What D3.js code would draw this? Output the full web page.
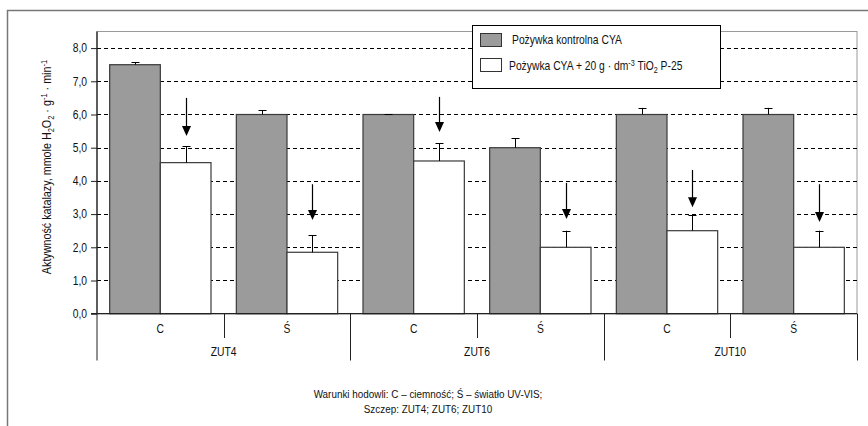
<!DOCTYPE html>
<html><head><meta charset="utf-8">
<script src="https://cdn.jsdelivr.net/npm/d3@7/dist/d3.min.js"></script>
<style>
html,body{margin:0;padding:0;background:#fff;}
svg{display:block;}
text{font-family:"Liberation Sans",Arial,sans-serif;fill:#111;}
</style></head>
<body>
<svg id="chart" width="868" height="426"></svg>
<script>
// ---- data ----
const groups = ["ZUT4", "ZUT6", "ZUT10"];
const conditions = ["C", "Ś"];
const control = [7.5, 6.0, 6.0, 5.0, 6.0, 6.0];
const controlErr = [0.07, 0.13, 0.01, 0.28, 0.2, 0.2];
const tio2 = [4.55, 1.85, 4.6, 2.0, 2.5, 2.0];
const tio2Err = [0.5, 0.52, 0.53, 0.5, 0.48, 0.5];
const arrowFrom = [6.5, 3.9, 6.53, 3.94, 4.33, 3.9];
const arrowTo = [5.35, 2.82, 5.47, 2.85, 3.21, 2.76];
const yTicks = [0, 1, 2, 3, 4, 5, 6, 7, 8];
const seriesNames = ["Pożywka kontrolna CYA", "Pożywka CYA + 20 g · dm⁻³ TiO₂ P-25"];

const svg = d3.select("#chart");
const SX = 0.86; // horizontal squeeze to mimic narrow Excel font

function label(g, x, y, anchor, size, parts, rotate) {
  const t = g.append("text")
    .attr("transform", `translate(${x},${y})` + (rotate ? ` rotate(${rotate})` : "") + ` scale(${SX},1)`)
    .attr("text-anchor", anchor)
    .style("font-size", size + "px");
  let offset = 0;
  parts.forEach(p => {
    if (typeof p === "string") {
      const ts = t.append("tspan").text(p);
      if (offset) { ts.attr("dy", -offset); offset = 0; }
    } else {
      const target = p.sub ? 3 : -4;
      const ts = t.append("tspan").text(p.t).style("font-size", (size * 0.7) + "px");
      ts.attr("dy", target - offset);
      offset = target;
    }
  });
  return t;
}

// outer frame
svg.append("rect").attr("x", 7.5).attr("y", 10.5).attr("width", 900).attr("height", 500)
  .attr("fill", "none").attr("stroke", "#777").attr("stroke-width", 1.5);

const left = 97, right = 857;
const y = d3.scaleLinear().domain([0, 8.5]).range([313.7, 31.5]);
const xg = d3.scaleBand().domain(groups).range([left, right]);
const xc = d3.scaleBand().domain(conditions).range([0, xg.bandwidth()]);
const xs = d3.scaleBand().domain(["control", "tio2"]).range([0, xc.bandwidth()]).paddingInner(0).paddingOuter(0.25);

// plot area border
svg.append("rect").attr("x", left).attr("y", y(8.5)).attr("width", right - left).attr("height", y(0) - y(8.5))
  .attr("fill", "#fff").attr("stroke", "#9a9a9a").attr("stroke-width", 1);

// gridlines
svg.append("g").selectAll("line").data(yTicks.filter(d => d > 0)).join("line")
  .attr("x1", left).attr("x2", right)
  .attr("y1", d => Math.round(y(d)) + 0.5).attr("y2", d => Math.round(y(d)) + 0.5)
  .attr("stroke", "#000").attr("stroke-width", 1).attr("stroke-dasharray", "4,3");

// records
const recs = [];
groups.forEach((g, gi) => conditions.forEach((c, ci) => {
  const i = gi * 2 + ci;
  recs.push({g, c, i, control: control[i], controlErr: controlErr[i], tio2: tio2[i], tio2Err: tio2Err[i],
    arrowFrom: arrowFrom[i], arrowTo: arrowTo[i], x0: xg(g) + xc(c)});
}));

const bars = svg.append("g");
recs.forEach(r => {
  [["control", "#9b9b9b"], ["tio2", "#ffffff"]].forEach(([k, fill]) => {
    const bx = r.x0 + xs(k);
    bars.append("rect").attr("x", bx).attr("y", y(r[k])).attr("width", xs.bandwidth()).attr("height", y(0) - y(r[k]))
      .attr("fill", fill).attr("stroke", "#3a3a3a").attr("stroke-width", 1.2);
    const cx = Math.round(bx + xs.bandwidth() / 2) + 0.5;
    const e = r[k + "Err"];
    bars.append("line").attr("x1", cx).attr("x2", cx).attr("y1", y(r[k])).attr("y2", y(r[k] + e))
      .attr("stroke", "#000").attr("stroke-width", 1);
    bars.append("line").attr("x1", cx - 4).attr("x2", cx + 4).attr("y1", Math.round(y(r[k] + e)) + 0.5).attr("y2", Math.round(y(r[k] + e)) + 0.5)
      .attr("stroke", "#000").attr("stroke-width", 1);
  });
  // arrow above tio2 bar
  const ax = Math.round(r.x0 + xs("tio2") + xs.bandwidth() / 2) + 0.5;
  const tip = y(r.arrowTo);
  bars.append("line").attr("x1", ax).attr("x2", ax).attr("y1", y(r.arrowFrom)).attr("y2", tip - 8)
    .attr("stroke", "#000").attr("stroke-width", 1.2);
  bars.append("path").attr("d", `M${ax - 4.5},${tip - 10}L${ax + 4.5},${tip - 10}L${ax},${tip}Z`).attr("fill", "#000");
});

// y axis
const yAxis = svg.append("g").attr("transform", `translate(${left},0)`)
  .call(d3.axisLeft(y).tickValues(yTicks).tickSize(6).tickPadding(4).tickFormat(d => d3.format(".1f")(d).replace(".", ",")));
yAxis.select(".domain").attr("stroke", "#222").attr("stroke-width", 1.3).attr("d", `M-6,${y(0)}H0V${y(8.5)}`);
yAxis.selectAll(".tick line").attr("stroke", "#222");
yAxis.selectAll(".tick text").each(function(d) {
  const t = d3.select(this);
  t.attr("transform", `scale(${SX},1)`).attr("x", -10 / SX).style("font-size", "12px").style("font-family", '"Liberation Sans",Arial,sans-serif').attr("fill", "#111");
});
// extend left axis down for group separator
svg.append("line").attr("x1", left).attr("x2", left).attr("y1", y(0)).attr("y2", 360.5).attr("stroke", "#222");

// x axis
svg.append("line").attr("x1", left).attr("x2", right).attr("y1", y(0)).attr("y2", y(0)).attr("stroke", "#222").attr("stroke-width", 1.3);
groups.forEach((g, gi) => {
  const gx = xg(g);
  conditions.forEach(c => {
    label(svg, gx + xc(c) + xc.bandwidth() / 2, 333, "middle", 12, [c]);
  });
  const mid = Math.round(gx + xc("Ś")) + 0.5;
  svg.append("line").attr("x1", mid).attr("x2", mid).attr("y1", y(0)).attr("y2", 338).attr("stroke", "#222");
  const end = Math.round(gx + xg.bandwidth()) + 0.5;
  svg.append("line").attr("x1", end).attr("x2", end).attr("y1", y(0)).attr("y2", 360.5).attr("stroke", "#222");
  label(svg, gx + xg.bandwidth() / 2, 356, "middle", 12, [g]);
});

// y axis title
label(svg, 51, 167, "middle", 12.5,
  ["Aktywność katalazy, mmole H", {t: "2", sub: true}, "O", {t: "2", sub: true}, " · g", {t: "-1"}, " · min", {t: "-1"}], -90);

// legend
const lg = svg.append("g");
lg.append("rect").attr("x", 472.5).attr("y", 25.5).attr("width", 248).attr("height", 63)
  .attr("fill", "#fff").attr("stroke", "#000").attr("stroke-width", 1);
lg.append("rect").attr("x", 480.5).attr("y", 33.5).attr("width", 21).attr("height", 13)
  .attr("fill", "#9b9b9b").attr("stroke", "#333");
lg.append("rect").attr("x", 480.5).attr("y", 58.5).attr("width", 21).attr("height", 13)
  .attr("fill", "#fff").attr("stroke", "#333");
label(lg, 512, 44, "start", 12, [seriesNames[0]]);
label(lg, 509, 70, "start", 12, ["Pożywka CYA + 20 g · dm", {t: "-3"}, " TiO", {t: "2", sub: true}, " P-25"]);

// footnote
label(svg, 428, 398, "middle", 11.5, ["Warunki hodowli: C – ciemność; Ś – światło UV-VIS;"]);
label(svg, 428, 413, "middle", 11.5, ["Szczep: ZUT4; ZUT6; ZUT10"]);
</script>
</body></html>
